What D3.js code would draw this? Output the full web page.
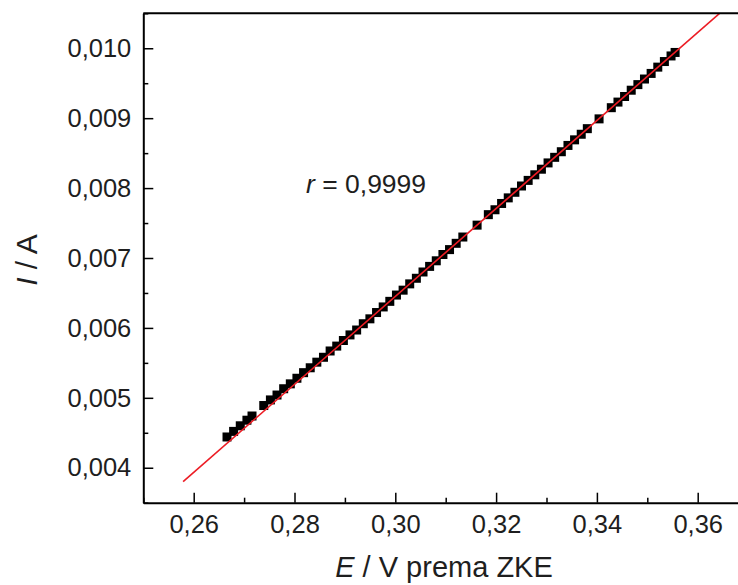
<!DOCTYPE html>
<html>
<head>
<meta charset="utf-8">
<script src="https://cdn.jsdelivr.net/npm/d3@7"></script>
<style>
  html, body { margin: 0; padding: 0; background: #fff; }
  svg { display: block; font-family: "Liberation Sans", Arial, sans-serif; }
</style>
</head>
<body>
<svg id="chart" width="738" height="585"></svg>
<script>
// ---- data ----
const potentialE = [
  0.26661, 0.26792, 0.26924, 0.27056, 0.27157,
  0.27390, 0.27522, 0.27653, 0.27785, 0.27917, 0.28048, 0.28180, 0.28312, 0.28443, 0.28575,
  0.28707, 0.28838, 0.28970, 0.29101, 0.29233, 0.29365, 0.29496, 0.29628, 0.29760, 0.29891,
  0.30023, 0.30155, 0.30286, 0.30418, 0.30550, 0.30681, 0.30813, 0.30945, 0.31076, 0.31208, 0.31340,
  0.31623, 0.31846,
  0.31978, 0.32109, 0.32241, 0.32373, 0.32504, 0.32636, 0.32768, 0.32899, 0.33031, 0.33162,
  0.33294, 0.33426, 0.33557, 0.33689, 0.33810,
  0.34043,
  0.34286, 0.34418, 0.34549, 0.34681, 0.34813, 0.34944, 0.35076, 0.35208, 0.35339, 0.35471, 0.35552
];
const currentI = [
  0.00444, 0.00452, 0.00460, 0.00468, 0.00474,
  0.00489, 0.00497, 0.00504, 0.00513, 0.00520, 0.00528, 0.00536, 0.00543, 0.00551, 0.00558,
  0.00567, 0.00574, 0.00582, 0.00590, 0.00597, 0.00606, 0.00613, 0.00622, 0.00630, 0.00638,
  0.00647, 0.00654, 0.00663, 0.00671, 0.00680, 0.00688, 0.00696, 0.00705, 0.00712, 0.00721, 0.00730,
  0.00747, 0.00762,
  0.00769, 0.00778, 0.00786, 0.00794, 0.00803, 0.00811, 0.00819, 0.00827, 0.00836, 0.00844,
  0.00852, 0.00861, 0.00869, 0.00877, 0.00885,
  0.00899,
  0.00915, 0.00923, 0.00931, 0.00940, 0.00948, 0.00956, 0.00964, 0.00973, 0.00981, 0.00989, 0.00994
];
// linear fit  I = slope * E + intercept
const fitSlope = 0.06293;
const fitIntercept = -0.012429;
const fitRangeE = [0.2579, 0.3715];
const correlationText = "0,9999";

const xTicks = [0.26, 0.28, 0.30, 0.32, 0.34, 0.36];
const xMinorTicks = [0.25, 0.27, 0.29, 0.31, 0.33, 0.35, 0.37];
const yTicks = [0.004, 0.005, 0.006, 0.007, 0.008, 0.009, 0.010];
const yMinorTicks = [0.0035, 0.0045, 0.0055, 0.0065, 0.0075, 0.0085, 0.0095, 0.0105];

const xTitle = ["E", " / V prema ZKE"];
const yTitle = ["I", " / A"];

// ---- layout ----
const svg = d3.select("#chart");
const pLeft = 143.3, pRight = 748.1, pTop = 13.3, pBottom = 502.7;
const x = d3.scaleLinear().domain([0.25, 0.37]).range([pLeft, pRight]);
const y = d3.scaleLinear().domain([0.0035, 0.0105]).range([pBottom, pTop]);
const comma = f => (v => d3.format(f)(v).replace(".", ","));
const textColor = "#1e1e1e";

svg.append("rect").attr("width", 738).attr("height", 585).attr("fill", "#fff");

svg.append("defs").append("clipPath").attr("id", "plotclip")
  .append("rect").attr("x", pLeft).attr("y", pTop).attr("width", pRight - pLeft).attr("height", pBottom - pTop);

// data points
const pts = potentialE.map((e, i) => ({ e, i: currentI[i] }));
const sq = 9;
svg.append("g").attr("clip-path", "url(#plotclip)")
  .selectAll("rect").data(pts).join("rect")
  .attr("x", d => x(d.e) - sq / 2)
  .attr("y", d => y(d.i) - sq / 2)
  .attr("width", sq).attr("height", sq)
  .attr("fill", "#000");

// fit line
const fitData = fitRangeE.map(e => ({ e, i: fitSlope * e + fitIntercept }));
svg.append("path").attr("clip-path", "url(#plotclip)")
  .datum(fitData)
  .attr("d", d3.line().x(d => x(d.e)).y(d => y(d.i)))
  .attr("fill", "none").attr("stroke", "#ec1c24").attr("stroke-width", 1.6);

// axes
const gx = svg.append("g").attr("transform", `translate(0,${pBottom})`)
  .call(d3.axisBottom(x).tickValues(xTicks).tickFormat(comma(".2f")).tickSizeInner(-10).tickSizeOuter(0).tickPadding(12));
const gxm = svg.append("g").attr("transform", `translate(0,${pBottom})`)
  .call(d3.axisBottom(x).tickValues(xMinorTicks).tickFormat("").tickSizeInner(-5).tickSizeOuter(0));
const gy = svg.append("g").attr("transform", `translate(${pLeft},0)`)
  .call(d3.axisLeft(y).tickValues(yTicks).tickFormat(comma(".3f")).tickSizeInner(-10).tickSizeOuter(0).tickPadding(12));
const gym = svg.append("g").attr("transform", `translate(${pLeft},0)`)
  .call(d3.axisLeft(y).tickValues(yMinorTicks).tickFormat("").tickSizeInner(-5).tickSizeOuter(0));

[gx, gxm, gy, gym].forEach(g => {
  g.selectAll(".domain").attr("stroke", "#000").attr("stroke-width", 2);
  g.selectAll(".tick line").attr("stroke", "#000").attr("stroke-width", 1.5);
  g.selectAll(".tick text").attr("fill", textColor).style("font-size", "25.5px")
    .style("font-family", '"Liberation Sans", Arial, sans-serif');
});
gxm.select(".domain").remove();
gym.select(".domain").remove();

// top frame line
svg.append("line").attr("x1", pLeft).attr("x2", pRight).attr("y1", pTop).attr("y2", pTop)
  .attr("stroke", "#000").attr("stroke-width", 2);

// annotation
const ann = svg.append("text").attr("x", 306).attr("y", 193)
  .attr("fill", textColor).style("font-size", "26.5px");
ann.append("tspan").style("font-style", "italic").text("r");
ann.append("tspan").text(" = " + correlationText);

// axis titles
const xt = svg.append("text").attr("x", 444).attr("y", 577).attr("text-anchor", "middle")
  .attr("fill", textColor).style("font-size", "29px");
xt.append("tspan").style("font-style", "italic").text(xTitle[0]);
xt.append("tspan").text(xTitle[1]);

const yt = svg.append("text").attr("transform", "translate(36.5,260) rotate(-90)")
  .attr("text-anchor", "middle").attr("fill", textColor).style("font-size", "30px");
yt.append("tspan").style("font-style", "italic").text(yTitle[0]);
yt.append("tspan").text(yTitle[1]);
</script>
</body>
</html>
